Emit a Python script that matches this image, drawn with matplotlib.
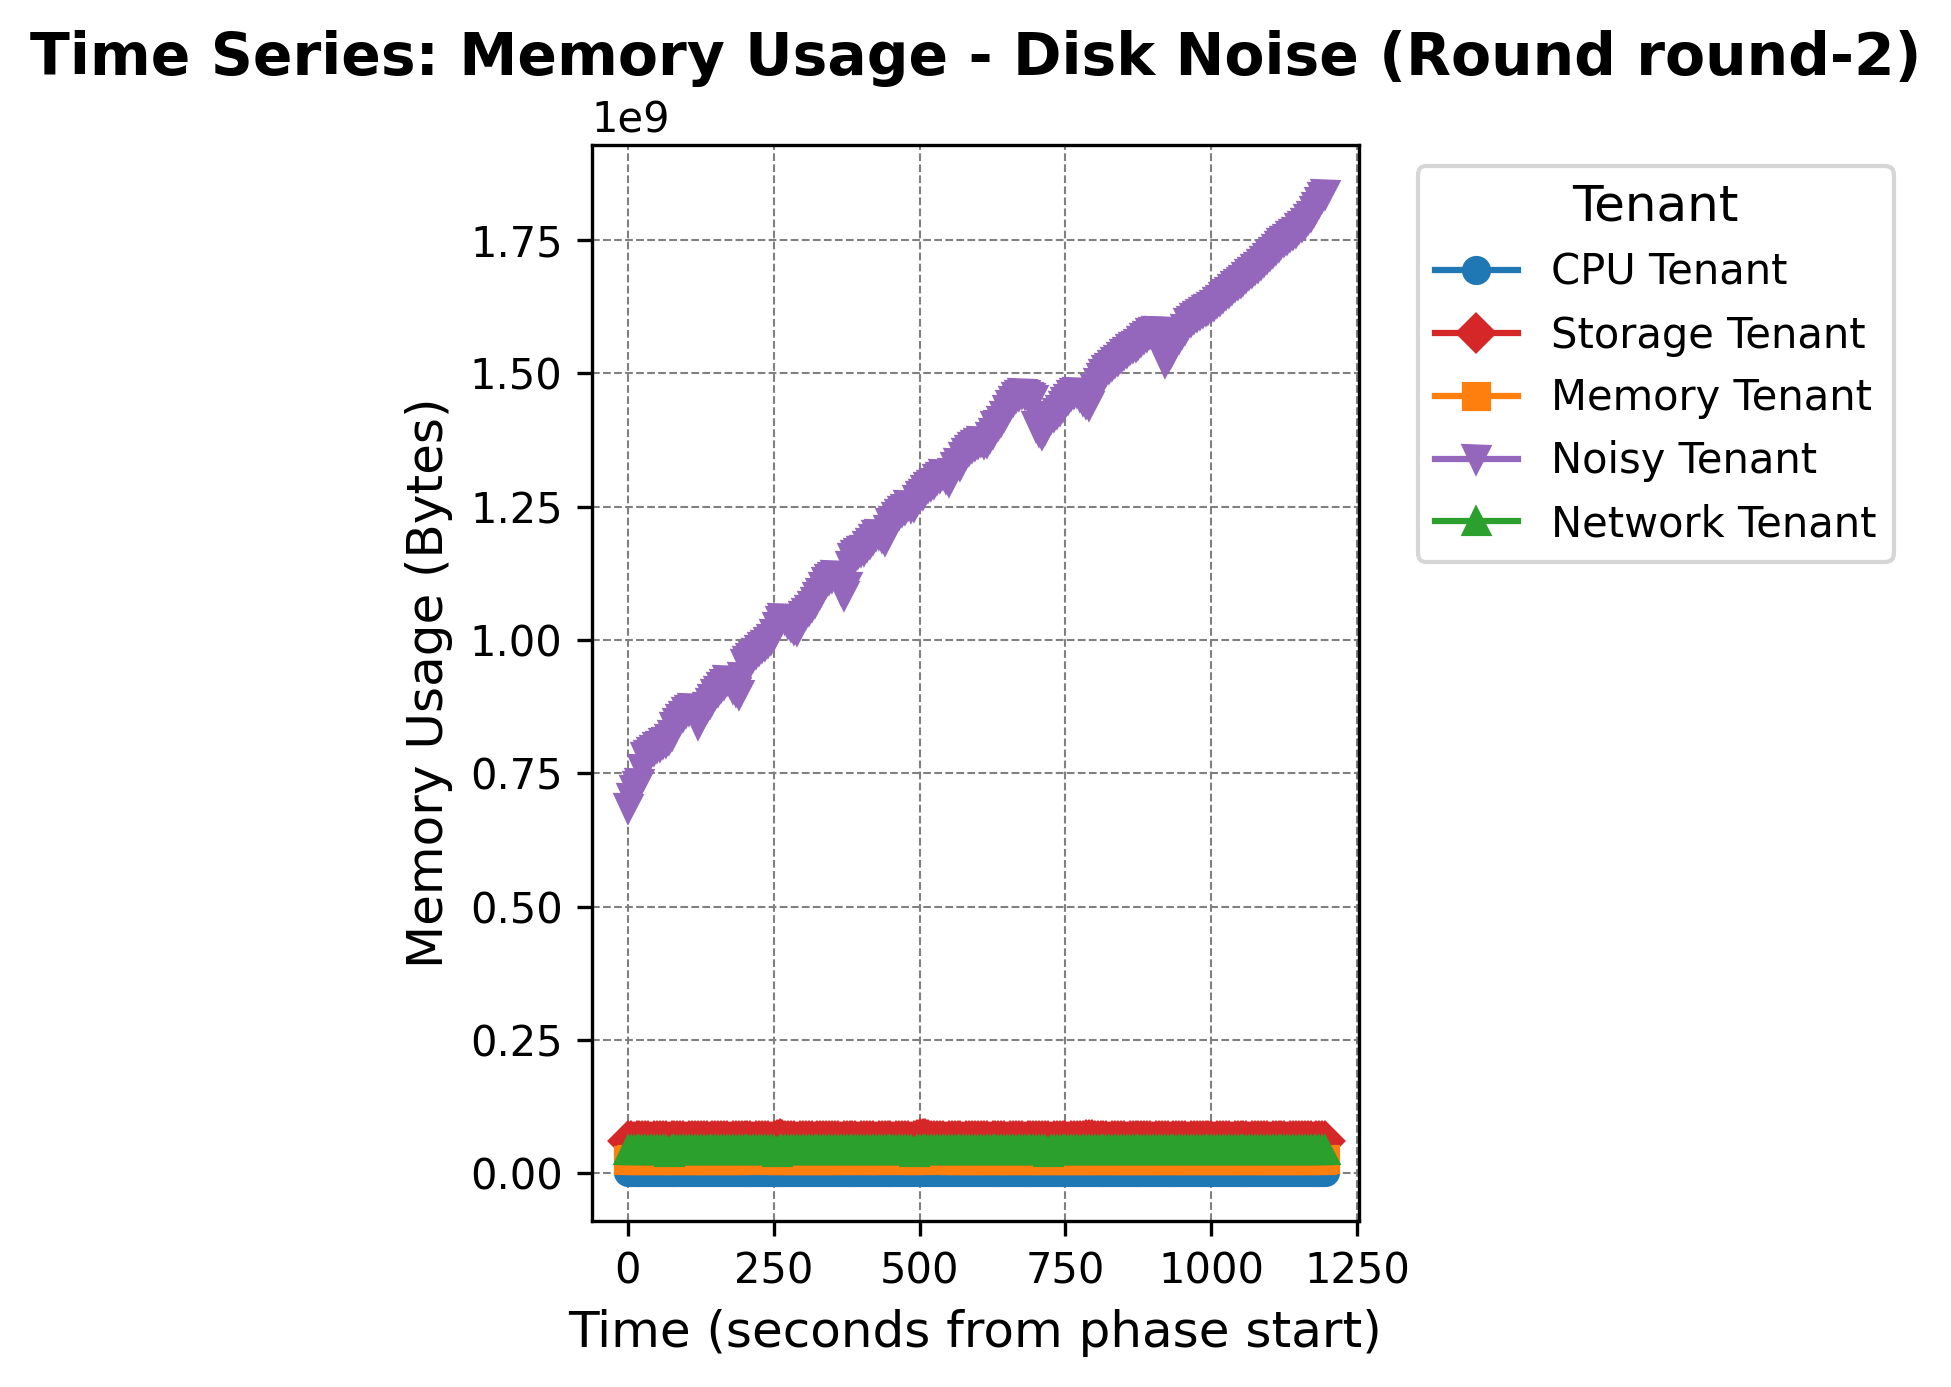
import numpy as np
import matplotlib
matplotlib.use("Agg")
import matplotlib.pyplot as plt

# ---- data ----
time_s = np.arange(0, 1200, 5)  # sampling grid, seconds from phase start

noisy_gb = [
    0.685, 0.703, 0.718, 0.727, 0.731, 0.758, 0.781, 0.784, 0.789, 0.794,
    0.799, 0.802, 0.806, 0.809, 0.814, 0.821, 0.836, 0.845, 0.851, 0.858,
    0.864, 0.869, 0.873, 0.861, 0.843, 0.856, 0.867, 0.874, 0.881, 0.889,
    0.898, 0.905, 0.911, 0.917, 0.925, 0.921, 0.910, 0.904, 0.899, 0.931,
    0.954, 0.960, 0.966, 0.970, 0.975, 0.981, 0.986, 0.990, 0.996, 1.002,
    1.011, 1.024, 1.036, 1.042, 1.040, 1.031, 1.026, 1.021, 1.019, 1.034,
    1.045, 1.051, 1.057, 1.063, 1.071, 1.080, 1.088, 1.099, 1.109, 1.115,
    1.119, 1.122, 1.111, 1.096, 1.084, 1.101, 1.139, 1.154, 1.160, 1.164,
    1.167, 1.169, 1.176, 1.181, 1.189, 1.196, 1.199, 1.194, 1.187, 1.206,
    1.219, 1.224, 1.230, 1.236, 1.241, 1.246, 1.254, 1.249, 1.251, 1.262,
    1.270, 1.274, 1.281, 1.286, 1.290, 1.295, 1.301, 1.306, 1.311, 1.304,
    1.299, 1.314, 1.324, 1.331, 1.329, 1.344, 1.351, 1.356, 1.361, 1.366,
    1.370, 1.373, 1.369, 1.371, 1.381, 1.389, 1.401, 1.404, 1.411, 1.421,
    1.431, 1.440, 1.449, 1.455, 1.460, 1.463, 1.461, 1.458, 1.456, 1.452,
    1.402, 1.391, 1.386, 1.396, 1.409, 1.416, 1.421, 1.426, 1.431, 1.438,
    1.446, 1.452, 1.459, 1.463, 1.466, 1.458, 1.450, 1.444, 1.441, 1.456,
    1.471, 1.482, 1.491, 1.499, 1.506, 1.511, 1.516, 1.521, 1.526, 1.531,
    1.536, 1.541, 1.546, 1.549, 1.552, 1.556, 1.560, 1.566, 1.571, 1.575,
    1.578, 1.580, 1.579, 1.551, 1.522, 1.531, 1.541, 1.551, 1.561, 1.566,
    1.575, 1.584, 1.594, 1.598, 1.603, 1.607, 1.611, 1.615, 1.619, 1.621,
    1.624, 1.629, 1.633, 1.638, 1.643, 1.648, 1.653, 1.659, 1.663, 1.667,
    1.671, 1.676, 1.681, 1.686, 1.690, 1.695, 1.700, 1.705, 1.711, 1.716,
    1.722, 1.728, 1.733, 1.739, 1.744, 1.748, 1.752, 1.757, 1.762, 1.766,
    1.772, 1.777, 1.783, 1.789, 1.796, 1.804, 1.813, 1.822, 1.831, 1.836,
]

cpu_mb = [
    2.21, 2.24, 2.19, 2.23, 2.26, 2.22, 2.20, 2.25, 2.23, 2.21,
    2.22, 2.25, 2.20, 2.18, 2.24, 2.27, 2.21, 2.23, 2.22, 2.20,
    2.24, 2.21, 2.19, 2.23, 2.25, 2.22, 2.26, 2.20, 2.21, 2.24,
    2.23, 2.20, 2.22, 2.25, 2.21, 2.19, 2.24, 2.26, 2.22, 2.20,
    2.25, 2.22, 2.21, 2.23, 2.20, 2.24, 2.27, 2.21, 2.19, 2.22,
    2.23, 2.26, 2.20, 2.22, 2.24, 2.21, 2.23, 2.25, 2.19, 2.22,
    2.20, 2.24, 2.23, 2.21, 2.26, 2.22, 2.20, 2.23, 2.25, 2.21,
    2.22, 2.19, 2.24, 2.23, 2.21, 2.26, 2.22, 2.20, 2.24, 2.23,
    2.21, 2.25, 2.22, 2.20, 2.23, 2.24, 2.21, 2.19, 2.25, 2.22,
    2.24, 2.20, 2.23, 2.26, 2.21, 2.22, 2.24, 2.20, 2.23, 2.25,
    2.22, 2.21, 2.24, 2.19, 2.23, 2.26, 2.20, 2.22, 2.24, 2.21,
    2.23, 2.25, 2.20, 2.22, 2.21, 2.24, 2.26, 2.22, 2.19, 2.23,
    2.21, 2.24, 2.22, 2.20, 2.25, 2.23, 2.21, 2.24, 2.22, 2.20,
    2.26, 2.22, 2.21, 2.23, 2.19, 2.24, 2.25, 2.21, 2.22, 2.23,
    2.20, 2.24, 2.23, 2.21, 2.22, 2.26, 2.20, 2.23, 2.25, 2.22,
    2.21, 2.23, 2.20, 2.24, 2.22, 2.25, 2.21, 2.19, 2.23, 2.24,
    2.22, 2.20, 2.25, 2.23, 2.21, 2.24, 2.22, 2.26, 2.20, 2.21,
    2.24, 2.22, 2.19, 2.23, 2.25, 2.21, 2.22, 2.24, 2.23, 2.20,
    2.21, 2.25, 2.22, 2.20, 2.24, 2.23, 2.21, 2.26, 2.22, 2.19,
    2.23, 2.21, 2.24, 2.22, 2.20, 2.25, 2.23, 2.21, 2.24, 2.22,
    2.20, 2.24, 2.21, 2.23, 2.26, 2.22, 2.19, 2.23, 2.25, 2.21,
    2.22, 2.25, 2.20, 2.24, 2.21, 2.23, 2.22, 2.20, 2.24, 2.26,
    2.21, 2.23, 2.25, 2.22, 2.20, 2.24, 2.21, 2.23, 2.22, 2.25,
    2.23, 2.20, 2.22, 2.24, 2.21, 2.26, 2.22, 2.20, 2.23, 2.21,
]

memory_mb = [
    25.4, 25.6, 25.5, 25.3, 25.6, 25.5, 25.4, 25.7, 25.5, 28.6,
    25.5, 25.4, 25.6, 25.5, 25.3, 25.6, 25.5, 25.4, 25.6, 25.5,
    25.6, 25.4, 25.5, 25.6, 25.3, 25.5, 25.7, 25.4, 25.5, 25.6,
    25.5, 25.3, 25.6, 25.4, 25.5, 25.6, 25.5, 25.4, 25.6, 25.5,
    25.4, 28.4, 28.7, 28.5, 28.6, 28.4, 28.8, 28.5, 25.6, 25.4,
    25.5, 25.6, 25.4, 25.5, 25.7, 25.3, 25.5, 25.6, 25.4, 25.5,
    25.6, 25.5, 25.3, 25.6, 25.4, 25.5, 25.6, 25.5, 25.4, 25.6,
    25.5, 25.4, 25.6, 25.5, 25.3, 28.3, 28.6, 28.5, 28.4, 25.6,
    25.5, 25.4, 25.6, 25.5, 25.7, 25.4, 25.5, 28.4, 28.6, 28.5,
    28.7, 28.4, 28.6, 28.5, 25.5, 25.6, 25.4, 25.5, 25.6, 25.3,
    25.5, 28.5, 28.7, 28.4, 28.6, 28.5, 28.8, 28.4, 28.6, 25.5,
    25.6, 25.4, 25.5, 25.6, 25.3, 25.5, 25.7, 25.4, 25.5, 25.6,
    25.5, 25.4, 28.6, 25.5, 25.6, 25.4, 25.5, 25.6, 25.3, 25.5,
    25.6, 25.5, 25.4, 25.6, 25.5, 25.7, 25.4, 25.5, 25.6, 25.5,
    25.4, 25.6, 25.5, 25.3, 25.6, 25.5, 25.4, 25.6, 25.5, 25.4,
    25.6, 25.5, 25.4, 25.6, 25.5, 25.3, 25.6, 25.4, 25.5, 25.6,
    25.5, 25.4, 25.6, 25.5, 25.7, 25.4, 25.5, 25.6, 25.5, 25.3,
    25.6, 25.5, 25.4, 25.6, 25.5, 25.4, 25.6, 25.5, 25.3, 25.6,
    25.4, 25.5, 25.6, 25.5, 25.4, 25.6, 25.5, 25.7, 25.4, 25.5,
    25.6, 25.5, 25.3, 25.6, 25.4, 25.5, 25.6, 25.5, 25.4, 25.6,
    25.5, 25.4, 25.6, 25.5, 25.3, 25.6, 25.5, 25.4, 25.6, 25.5,
    25.4, 25.6, 25.5, 25.7, 25.4, 25.5, 25.6, 25.5, 25.3, 25.6,
    25.5, 25.4, 25.6, 25.5, 25.4, 25.6, 25.5, 25.3, 25.6, 25.5,
    25.4, 25.6, 25.5, 25.4, 25.6, 25.5, 25.7, 25.4, 25.5, 25.6,
]

storage_mb = [
    59.3, 59.6, 59.2, 59.5, 59.8, 59.3, 59.4, 59.7, 59.2, 59.5,
    59.6, 59.3, 59.4, 59.8, 59.2, 59.5, 59.6, 59.3, 59.7, 59.4,
    59.2, 59.5, 59.6, 59.3, 59.4, 59.8, 59.3, 59.5, 59.2, 59.6,
    59.4, 59.7, 59.3, 59.5, 59.6, 59.2, 59.4, 59.8, 59.3, 59.5,
    59.6, 59.3, 59.5, 59.2, 59.7, 59.4, 59.3, 59.6, 59.5, 59.2,
    59.8, 62.9, 63.6, 62.8, 59.7, 59.3, 59.5, 59.6, 59.2, 59.4,
    59.7, 59.3, 59.5, 59.6, 59.2, 59.4, 59.8, 59.3, 59.5, 59.6,
    59.3, 59.4, 59.7, 59.2, 59.5, 59.6, 59.3, 59.8, 59.4, 59.2,
    59.5, 59.6, 59.3, 59.7, 59.4, 59.2, 59.5, 59.8, 59.3, 59.6,
    59.4, 59.2, 59.5, 59.7, 59.3, 59.6, 59.4, 59.2, 59.8, 62.6,
    63.5, 63.2, 63.8, 62.7, 59.5, 59.3, 59.6, 59.4, 59.7, 59.2,
    59.5, 59.3, 59.6, 59.4, 59.8, 59.2, 59.5, 59.6, 59.3, 59.4,
    59.7, 59.3, 59.5, 59.6, 59.2, 59.4, 59.8, 59.3, 59.5, 59.6,
    59.2, 59.4, 59.7, 59.3, 59.5, 59.6, 59.2, 59.8, 59.4, 59.3,
    59.5, 59.6, 59.3, 59.7, 59.4, 59.2, 59.5, 59.8, 59.3, 59.6,
    59.4, 59.2, 59.5, 59.7, 59.3, 59.6, 59.4, 61.8, 62.3, 61.9,
    59.5, 59.3, 59.6, 59.4, 59.7, 59.2, 59.5, 59.3, 59.6, 59.4,
    59.8, 59.2, 59.5, 59.6, 59.3, 59.4, 59.7, 59.3, 59.5, 59.6,
    59.2, 59.4, 59.8, 59.3, 59.5, 59.6, 59.2, 59.4, 59.7, 59.3,
    59.5, 59.6, 59.2, 59.8, 59.4, 59.3, 59.5, 59.6, 59.3, 59.7,
    59.4, 59.2, 59.5, 59.8, 59.3, 59.6, 59.4, 59.2, 59.5, 59.7,
    59.3, 59.6, 59.4, 59.2, 59.8, 59.5, 59.3, 59.6, 59.4, 59.7,
    59.2, 59.5, 59.3, 59.6, 59.4, 59.8, 59.2, 59.5, 59.6, 59.3,
    59.4, 59.7, 59.3, 59.5, 59.6, 59.2, 59.4, 59.8, 59.3, 59.5,
]

network_mb = [
    42.6, 42.8, 42.5, 42.7, 42.6, 42.9, 42.5, 42.7, 42.6, 42.8,
    42.7, 42.5, 42.6, 42.8, 40.1, 42.6, 42.7, 42.5, 42.8, 42.6,
    42.5, 42.7, 42.6, 42.9, 42.5, 42.6, 42.8, 42.7, 42.5, 42.6,
    42.8, 42.6, 42.5, 42.7, 42.6, 42.8, 42.5, 42.7, 42.6, 42.9,
    42.5, 42.6, 42.8, 42.7, 42.5, 42.6, 42.8, 42.6, 42.5, 42.7,
    42.6, 40.3, 42.5, 42.7, 42.6, 42.8, 42.5, 42.7, 42.6, 42.9,
    42.5, 42.6, 42.8, 42.7, 42.5, 42.6, 42.8, 42.6, 42.5, 42.7,
    42.6, 42.8, 42.5, 42.7, 42.6, 42.9, 42.5, 42.6, 42.8, 42.7,
    42.5, 42.6, 42.8, 42.6, 42.5, 42.7, 42.6, 42.8, 42.5, 42.7,
    42.6, 42.9, 42.5, 42.6, 42.8, 42.7, 42.5, 42.6, 40.2, 42.6,
    42.5, 42.7, 42.6, 42.8, 42.5, 42.7, 42.6, 42.9, 42.5, 42.6,
    42.8, 42.7, 42.5, 42.6, 42.8, 42.6, 42.5, 42.7, 42.6, 42.8,
    42.5, 42.7, 42.6, 42.9, 42.5, 42.6, 42.8, 42.7, 42.5, 42.6,
    42.8, 42.6, 42.5, 42.7, 42.6, 42.8, 42.5, 42.7, 42.6, 42.9,
    42.5, 42.6, 42.8, 42.7, 40.4, 42.6, 42.8, 42.6, 42.5, 42.7,
    42.6, 42.8, 42.5, 42.7, 42.6, 42.9, 42.5, 42.6, 42.8, 42.7,
    42.5, 42.6, 42.8, 42.6, 42.5, 42.7, 42.6, 42.8, 42.5, 42.7,
    42.6, 42.9, 42.5, 42.6, 42.8, 42.7, 42.5, 42.6, 42.8, 42.6,
    42.5, 42.7, 42.6, 42.8, 42.5, 42.7, 42.6, 42.9, 42.5, 42.6,
    42.8, 42.7, 42.5, 42.6, 42.8, 42.6, 42.5, 42.7, 42.6, 42.8,
    42.5, 42.7, 42.6, 42.9, 42.5, 42.6, 42.8, 42.7, 42.5, 42.6,
    42.8, 42.6, 42.5, 42.7, 42.6, 42.8, 42.5, 42.7, 42.6, 42.9,
    42.5, 42.6, 42.8, 42.7, 42.5, 42.6, 42.8, 42.6, 42.5, 42.7,
    42.6, 42.8, 42.5, 42.7, 42.6, 42.9, 42.5, 42.6, 42.8, 42.7,
]

tenant_names = ["CPU Tenant", "Storage Tenant", "Memory Tenant", "Noisy Tenant", "Network Tenant"]
tenant_colors = ["#1f77b4", "#d62728", "#ff7f0e", "#9467bd", "#2ca02c"]
tenant_markers = ["o", "D", "s", "v", "^"]

series_bytes = [
    np.array(cpu_mb) * 1e6,
    np.array(storage_mb) * 1e6,
    np.array(memory_mb) * 1e6,
    np.array(noisy_gb) * 1e9,
    np.array(network_mb) * 1e6,
]

# ---- figure ----
fig = plt.figure(figsize=(1951 / 300, 1387 / 300), dpi=300)
ax = fig.add_axes([0.3033, 0.1198, 0.3932, 0.7754])

for name, color, marker, values in zip(tenant_names, tenant_colors, tenant_markers, series_bytes):
    ax.plot(time_s, values, color=color, marker=marker, markersize=6, linewidth=1.5, label=name)

ax.grid(True, linestyle="--", linewidth=0.5, color="gray")
ax.set_xticks([0, 250, 500, 750, 1000, 1250])
ax.set_xlim(-61.8, 1252.7)
ax.tick_params(axis="both", labelsize=10)
ax.set_xlabel("Time (seconds from phase start)", fontsize=12)
ax.set_ylabel("Memory Usage (Bytes)", fontsize=12)
ax.set_title("Time Series: Memory Usage - Disk Noise (Round round-2)", fontsize=14, fontweight="bold")
ax.legend(title="Tenant", title_fontsize=12, fontsize=10, bbox_to_anchor=(1.05, 1), loc="upper left")

fig.savefig("out.png", dpi=300)
